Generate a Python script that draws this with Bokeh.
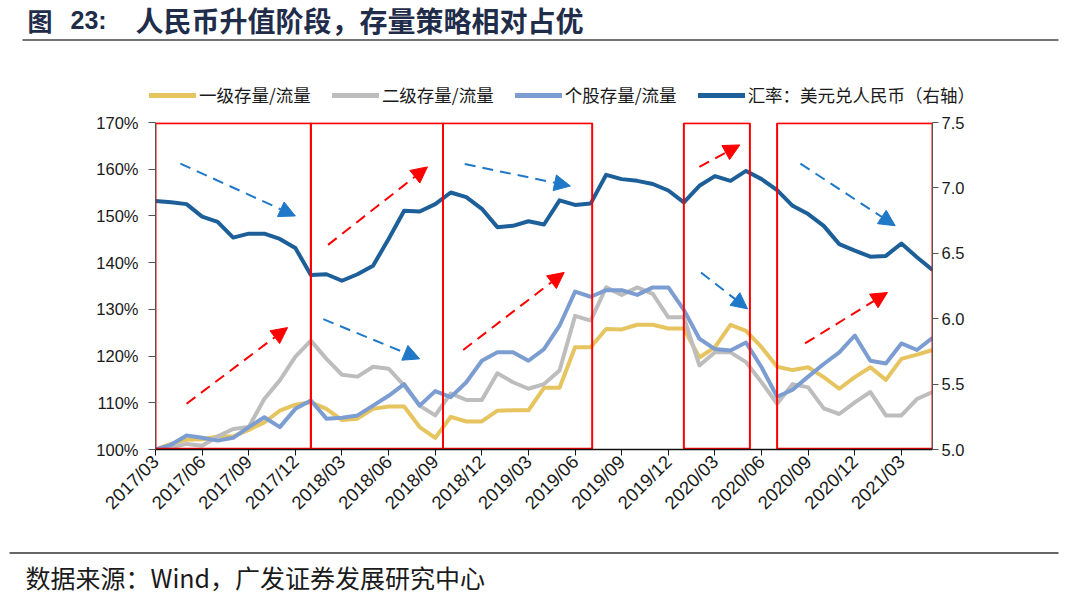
import math
from bokeh.plotting import figure
from bokeh.models import (Range1d, LinearAxis, FixedTicker, PrintfTickFormatter, Legend,
                          LegendItem, Arrow, NormalHead)
from bokeh.core.properties import value
from bokeh.embed import file_html
from bokeh.resources import INLINE

# ---------------- data ----------------
months = [f"{2017 + (2 + k) // 12}/{(2 + k) % 12 + 1:02d}" for k in range(51)]
tick_labels = ["2017/03", "2017/06", "2017/09", "2017/12", "2018/03", "2018/06", "2018/09",
               "2018/12", "2019/03", "2019/06", "2019/09", "2019/12", "2020/03", "2020/06",
               "2020/09", "2020/12", "2021/03"]

primary = [100.0, 101.2, 102.1, 102.2, 102.8, 102.8, 104.2, 105.8, 108.3, 109.6, 110.1, 108.7,
           106.3, 106.6, 108.7, 109.2, 109.2, 104.8, 102.5, 107.0, 106.0, 106.0, 108.3, 108.4,
           108.4, 113.2, 113.2, 121.9, 121.9, 125.8, 125.7, 126.7, 126.7, 125.9, 125.9, 119.7,
           121.9, 126.7, 125.4, 121.9, 117.7, 117.0, 117.6, 115.5, 113.0, 115.5, 117.6, 114.9,
           119.4, 120.3, 121.3]
secondary = [100.0, 100.4, 101.2, 100.8, 102.8, 104.4, 104.8, 110.8, 114.8, 119.9, 123.3, 119.4,
             116.0, 115.6, 117.7, 117.3, 113.7, 109.4, 107.3, 112.0, 110.6, 110.6, 116.3, 114.4,
             113.0, 114.0, 116.9, 128.6, 127.6, 134.7, 133.1, 134.7, 133.3, 128.3, 128.3, 118.0,
             120.8, 120.8, 118.7, 114.4, 109.8, 114.0, 113.3, 108.8, 107.6, 110.1, 112.3, 107.3,
             107.3, 110.8, 112.3]
stocks = [100.0, 101.0, 103.0, 102.5, 101.9, 102.5, 104.8, 106.9, 104.8, 108.7, 110.5, 106.6,
          106.8, 107.3, 109.4, 111.5, 114.0, 109.4, 112.5, 111.2, 114.4, 119.0, 120.8, 120.8,
          119.0, 121.5, 126.5, 133.8, 132.7, 134.1, 134.1, 133.1, 134.7, 134.7, 129.9, 123.7,
          121.5, 121.2, 122.9, 117.6, 111.3, 112.8, 115.6, 118.3, 120.8, 124.4, 119.0, 118.4,
          122.7, 121.3, 123.9]
usdcny = [6.90, 6.89, 6.876, 6.78, 6.74, 6.62, 6.65, 6.65, 6.61, 6.54, 6.335, 6.34, 6.29, 6.34,
          6.405, 6.61, 6.825, 6.82, 6.876, 6.965, 6.93, 6.84, 6.70, 6.71, 6.745, 6.72, 6.905,
          6.87, 6.88, 7.10, 7.067, 7.054, 7.03, 6.98, 6.89, 7.016, 7.09, 7.054, 7.13, 7.067,
          6.983, 6.863, 6.80, 6.71, 6.57, 6.52, 6.474, 6.48, 6.575, 6.47, 6.372]

# phase boxes (month index start / end)
phase_start = [0, 10, 18.5, 34, 40]
phase_end = [10, 18.5, 28.1, 38.25, 50]

# trend arrows (month index, left-axis %)
blue_arrows = [(1.6, 161.2, 9.0, 150.0), (10.8, 127.9, 17.0, 119.4), (19.9, 161.1, 26.7, 156.4),
               (35.1, 137.9, 38.1, 130.1), (41.5, 161.2, 47.6, 147.9)]
red_arrows = [(2.0, 109.8, 8.5, 126.1), (11.1, 143.8, 17.5, 160.5), (19.8, 121.3, 26.3, 137.9),
              (35.0, 160.5, 37.6, 165.2), (41.8, 122.7, 47.1, 133.6)]

series_names = ["一级存量/流量", "二级存量/流量", "个股存量/流量", "汇率：美元兑人民币（右轴）"]
series_colors = ["#E6C460", "#BDBDBD", "#7C9DD1", "#1D5F98"]
title_parts = ["图", "23:", "人民币升值阶段，存量策略相对占优"]
source_text = "数据来源：Wind，广发证券发展研究中心"

W = 1080
TOP_H, MAIN_H, BOT_H = 110, 435, 51
CJK = "Noto Sans CJK SC"


def blank_fig(h):
    f = figure(width=W, height=h, output_backend="svg", toolbar_location=None,
               x_range=Range1d(0, W), y_range=Range1d(h, 0),
               x_axis_location=None, y_axis_location=None,
               min_border=0, min_border_left=0, min_border_right=0,
               min_border_top=0, min_border_bottom=0)
    f.outline_line_color = None
    f.grid.visible = False
    return f


# ---------------- top: title, rule, legend ----------------
top = blank_fig(TOP_H)
title_font = [CJK, "Liberation Sans", CJK]
title_size = ["25px", "25px", "28px"]
title_x = [27, 70, 135]
for t, fnt, fs, tx in zip(title_parts, title_font, title_size, title_x):
    top.text(x=[tx], y=[19], text=[t], text_font=value(fnt), text_font_size=fs,
             text_font_style="bold", text_color="#1F2D4A", text_baseline="middle", text_align="left")
top.segment(x0=[22], y0=[39.5], x1=[1058], y1=[39.5], line_color="#444444", line_width=1.5)
legend_renderers = [top.line(x=[-100, -90], y=[-100, -100], line_color=c, line_width=5, line_cap="round")
                    for c in series_colors]
legend = Legend(items=[LegendItem(label=n, renderers=[r]) for n, r in zip(series_names, legend_renderers)],
                orientation="horizontal", location=(149, 3), margin=0, padding=0, spacing=21,
                glyph_width=47, glyph_height=20, label_height=20, label_standoff=3,
                label_text_font=CJK, label_text_font_size="17.5px",
                label_text_color="#1a1a1a", border_line_color=None, background_fill_alpha=0)
top.add_layout(legend, "center")

# ---------------- main chart ----------------
ML, MR = 155, 148
MT = 122 - TOP_H
MB = MAIN_H - MT - 327
p = figure(width=W, height=MAIN_H, output_backend="svg", toolbar_location=None,
           x_range=Range1d(0, 50), y_range=Range1d(100, 170),
           min_border_left=ML, min_border_right=MR, min_border_top=MT, min_border_bottom=MB)
p.extra_y_ranges = {"fx": Range1d(5.0, 7.5)}
p.outline_line_color = None
p.xgrid.grid_line_color = None
p.ygrid.grid_line_color = None

x = list(range(len(months)))
p.line(x, primary, line_color=series_colors[0], line_width=4, line_join="round")
p.line(x, secondary, line_color=series_colors[1], line_width=4, line_join="round")
p.line(x, stocks, line_color=series_colors[2], line_width=4, line_join="round")
p.line(x, usdcny, line_color=series_colors[3], line_width=4, line_join="round", y_range_name="fx")

p.quad(left=phase_start, right=phase_end, bottom=[100.15] * 5, top=[169.85] * 5,
       fill_color=None, line_color="#FF0000", line_width=2)

for (xs, ys, xe, ye) in blue_arrows:
    p.add_layout(Arrow(x_start=xs, y_start=ys, x_end=xe, y_end=ye, line_color="#1F78C8",
                       line_width=2, line_dash="11 7",
                       end=NormalHead(size=16, fill_color="#1F78C8", line_color="#1F78C8")))
for (xs, ys, xe, ye) in red_arrows:
    p.add_layout(Arrow(x_start=xs, y_start=ys, x_end=xe, y_end=ye, line_color="#FF0000",
                       line_width=2, line_dash="11 7",
                       end=NormalHead(size=16, fill_color="#FF0000", line_color="#FF0000")))

tick_pos = [months.index(t) for t in tick_labels]
p.xaxis.ticker = FixedTicker(ticks=tick_pos)
p.xaxis.major_label_overrides = {pos: lab for pos, lab in zip(tick_pos, tick_labels)}
p.xaxis.major_label_orientation = math.pi / 4
p.xaxis.minor_tick_line_color = None
p.xaxis.major_tick_out = 6
p.xaxis.major_tick_in = 0
p.xaxis.axis_line_color = "#111111"
p.xaxis.axis_line_width = 1.5
p.xaxis.major_tick_line_color = "#111111"
p.xaxis.major_label_text_font = "Liberation Sans"
p.xaxis.major_label_text_font_size = "18.5px"
p.xaxis.major_label_text_color = "#1a1a1a"
p.xaxis.major_label_standoff = 3

p.yaxis.ticker = FixedTicker(ticks=[100, 110, 120, 130, 140, 150, 160, 170])
p.yaxis.formatter = PrintfTickFormatter(format="%d%%")
p.yaxis.minor_tick_line_color = None
p.yaxis.major_tick_out = 7
p.yaxis.major_tick_in = 0
p.yaxis.axis_line_color = "#555555"
p.yaxis.major_tick_line_color = "#555555"
p.yaxis.major_label_text_font = "Liberation Sans"
p.yaxis.major_label_text_font_size = "16.5px"
p.yaxis.major_label_text_color = "#1a1a1a"
p.yaxis.major_label_standoff = 10

ry = LinearAxis(y_range_name="fx", ticker=FixedTicker(ticks=[5.0, 5.5, 6.0, 6.5, 7.0, 7.5]),
                formatter=PrintfTickFormatter(format="%.1f"))
ry.minor_tick_line_color = None
ry.major_tick_out = 6
ry.major_tick_in = 0
ry.axis_line_color = "#555555"
ry.major_tick_line_color = "#555555"
ry.major_label_text_font = "Liberation Sans"
ry.major_label_text_font_size = "16.5px"
ry.major_label_text_color = "#1a1a1a"
ry.major_label_standoff = 3
p.add_layout(ry, "right")

# ---------------- bottom: rule and source ----------------
bot = blank_fig(BOT_H)
bot.segment(x0=[9], y0=[7.5], x1=[1058], y1=[7.5], line_color="#333333", line_width=1.5)
bot.text(x=[25], y=[31], text=[source_text], text_font=value(CJK), text_font_size="25px",
         text_color="#1a1a1a", text_baseline="middle", text_align="left")

open("out.html", "w").write(file_html([top, p, bot], INLINE))
